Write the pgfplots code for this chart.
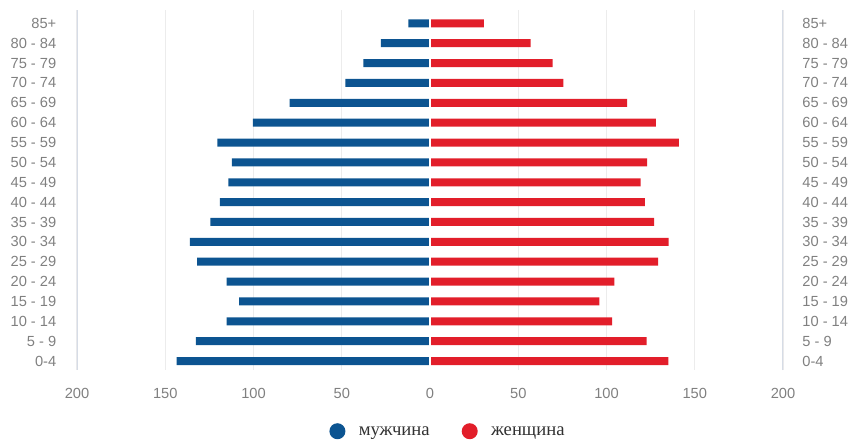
\documentclass[border=0pt]{standalone}
\usepackage{pgfplots}
\pgfplotsset{compat=1.18}
\usepackage{pgfplotstable}
\usepackage{fontspec}
\setmainfont{Liberation Sans}
\newfontfamily\legfont{Liberation Serif}

\definecolor{menblue}{RGB}{12,84,145}
\definecolor{womenred}{RGB}{226,30,42}
\definecolor{gridc}{RGB}{236,236,236}
\definecolor{sidec}{RGB}{214,220,230}
\definecolor{tickc}{RGB}{128,128,128}
\definecolor{legc}{RGB}{50,50,50}

% age groups 0-4 ... 85+, men as negative values
\pgfplotstableread{
idx men women
0 -143.5 135
1 -132.7 122.7
2 -115.2 103.2
3 -108.2 96
4 -115.2 104.5
5 -132 129.3
6 -136 135.2
7 -124.5 127
8 -119 121.7
9 -114.3 119.4
10 -112.2 123
11 -120.5 141
12 -100.3 128
13 -79.5 111.7
14 -48 75.5
15 -37.8 69.5
16 -27.8 57
17 -12.3 30.5
}\pyramid

\def\agegroups{0-4,5 - 9,10 - 14,15 - 19,20 - 24,25 - 29,30 - 34,35 - 39,40 - 44,45 - 49,50 - 54,55 - 59,60 - 64,65 - 69,70 - 74,75 - 79,80 - 84,85+}

\pgfplotsset{
  pyr/.style={
    at={(0pt,0pt)}, anchor=south west,
    scale only axis, width=529.5pt, height=270pt,
    xmin=-200, xmax=200, ymin=-0.45, ymax=17.67,
    ytick={0,...,17},
    yticklabels/.expand once=\agegroups,
    tick style={draw=none},
    axis line style={draw=none},
    ticklabel style={font=\fontsize{11}{13}\selectfont, text=tickc},
    /pgf/number format/assume math mode=true,
  },
  dot/.style={legend image code/.code={
    \fill[#1] (0pt,1pt) circle (6pt);
    \path (14pt,1pt);}},
}

\begin{document}
\begin{tikzpicture}
\useasboundingbox (-57.75pt,-52.5pt) rectangle (584.25pt,277.5pt);
\begin{axis}[
  pyr,
  xtick={-200,-150,...,200},
  xticklabel={\pgfmathparse{abs(\tick)}\pgfmathprintnumber{\pgfmathresult}},
  xmajorgrids, grid style={gridc, line width=0.8pt},
  yticklabel style={xshift=-12pt},
  xticklabel style={yshift=-10pt},
  legend columns=2,
  legend style={at={(0.526,-0.172)}, anchor=center, draw=none,
    font=\legfont\fontsize{14}{16}\selectfont, text=legc,
    /tikz/every even column/.append style={column sep=22pt}},
]
% side frame lines at +-200
\draw[sidec, line width=1pt] (rel axis cs:0,0) -- (rel axis cs:0,1);
\draw[sidec, line width=1pt] (rel axis cs:1,0) -- (rel axis cs:1,1);
\addplot[xbar, bar width=6pt, bar shift=0pt, fill=menblue, draw=none, dot=menblue]
  table[x=men, y=idx] {\pyramid};
\addlegendentry{мужчина}
\addplot[xbar, bar width=6pt, bar shift=0pt, fill=womenred, draw=none, dot=womenred]
  table[x=women, y=idx] {\pyramid};
\addlegendentry{женщина}
\draw[white, line width=1.4pt] (axis cs:0,-0.45) -- (axis cs:0,17.67);
\end{axis}
\begin{axis}[
  pyr,
  hide x axis,
  axis y line*=right,
  yticklabel style={anchor=west, xshift=11pt},
]
\end{axis}
\end{tikzpicture}
\end{document}
